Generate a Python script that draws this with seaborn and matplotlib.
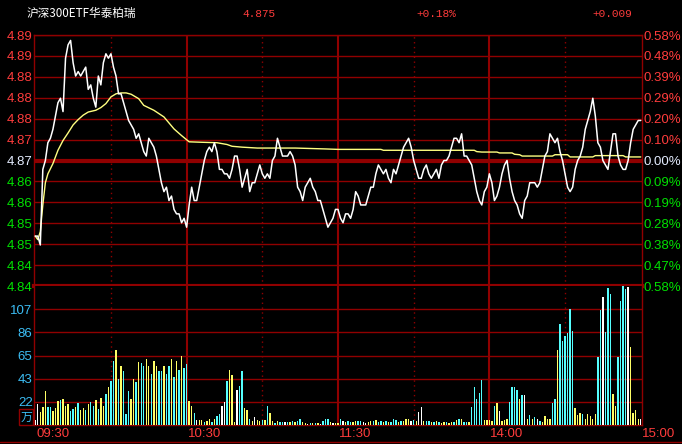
import numpy as np
import matplotlib
matplotlib.use("Agg")
import matplotlib.pyplot as plt
import matplotlib.transforms as mtransforms
from matplotlib.lines import Line2D
import seaborn as sns

# ---- data ----
title = "沪深300ETF华泰柏瑞"
last_price = "4.875"
chg_pct = "+0.18%"
chg = "+0.009"
prev_close = 4.866
max_pct = 0.0058

minutes = list(range(241))
price = [
    4.849, 4.849, 4.847, 4.864, 4.866, 4.870, 4.871, 4.873, 4.876, 4.879,
    4.880, 4.877, 4.889, 4.892, 4.893, 4.888, 4.885, 4.886, 4.885, 4.886,
    4.887, 4.882, 4.883, 4.880, 4.878, 4.885, 4.883, 4.888, 4.890, 4.889,
    4.890, 4.887, 4.885, 4.881, 4.881, 4.879, 4.877, 4.875, 4.874, 4.873,
    4.871, 4.872, 4.870, 4.868, 4.867, 4.871, 4.870, 4.869, 4.867, 4.864,
    4.861, 4.859, 4.860, 4.857, 4.858, 4.855, 4.854, 4.854, 4.852, 4.853,
    4.851, 4.856, 4.860, 4.857, 4.857, 4.860, 4.863, 4.866, 4.868, 4.869,
    4.868, 4.870, 4.868, 4.864, 4.864, 4.863, 4.863, 4.862, 4.864, 4.867,
    4.867, 4.864, 4.860, 4.862, 4.864, 4.859, 4.861, 4.861, 4.863, 4.865,
    4.863, 4.862, 4.863, 4.862, 4.866, 4.867, 4.871, 4.869, 4.867, 4.867,
    4.867, 4.868, 4.867, 4.865, 4.860, 4.859, 4.857, 4.860, 4.861, 4.862,
    4.860, 4.859, 4.857, 4.857, 4.855, 4.853, 4.851, 4.852, 4.853, 4.855,
    4.855, 4.853, 4.852, 4.854, 4.854, 4.853, 4.855, 4.859, 4.858, 4.856,
    4.856, 4.856, 4.858, 4.860, 4.860, 4.863, 4.865, 4.864, 4.863, 4.864,
    4.862, 4.861, 4.864, 4.863, 4.865, 4.867, 4.869, 4.870, 4.871, 4.869,
    4.866, 4.864, 4.862, 4.862, 4.864, 4.865, 4.863, 4.862, 4.863, 4.864,
    4.862, 4.865, 4.866, 4.866, 4.867, 4.869, 4.871, 4.871, 4.870, 4.872,
    4.867, 4.867, 4.866, 4.865, 4.862, 4.859, 4.857, 4.856, 4.859, 4.860,
    4.863, 4.861, 4.857, 4.858, 4.860, 4.863, 4.865, 4.866, 4.862, 4.859,
    4.857, 4.856, 4.854, 4.853, 4.857, 4.858, 4.861, 4.861, 4.861, 4.860,
    4.861, 4.864, 4.867, 4.868, 4.872, 4.871, 4.870, 4.871, 4.868, 4.866,
    4.863, 4.860, 4.859, 4.860, 4.864, 4.866, 4.867, 4.869, 4.873, 4.875,
    4.877, 4.880, 4.876, 4.870, 4.869, 4.866, 4.865, 4.864, 4.868, 4.872,
    4.872, 4.867, 4.865, 4.864, 4.864, 4.866, 4.870, 4.873, 4.874, 4.875,
    4.875,
]

avg_min = [0, 1, 2, 3, 4, 5, 7, 9, 11, 13, 15, 17, 19, 21, 24, 26, 28, 30,
           32, 34, 36, 38, 41, 43, 47, 51, 55, 58, 61, 66, 72, 76, 78, 82,
           88, 103, 115, 120, 137, 138, 174, 175, 177, 183, 184, 189, 190,
           192, 193, 205, 206, 211, 212, 221, 222, 233, 234, 240]
avg_price = [4.8490, 4.8482, 4.8500, 4.8560, 4.8610, 4.8630, 4.8653, 4.8683,
             4.8705, 4.8722, 4.8740, 4.8752, 4.8762, 4.8769, 4.8773, 4.8779,
             4.8788, 4.8803, 4.8810, 4.8812, 4.8812, 4.8809, 4.8799, 4.8784,
             4.8773, 4.8758, 4.8731, 4.8716, 4.8702, 4.8701, 4.8700, 4.8696,
             4.8692, 4.8690, 4.8688, 4.8688, 4.8686, 4.8685, 4.8685, 4.8683,
             4.8683, 4.8680, 4.8679, 4.8679, 4.8677, 4.8677, 4.8674, 4.8673,
             4.8670, 4.8670, 4.8673, 4.8673, 4.8668, 4.8668, 4.8671, 4.8671,
             4.8668, 4.8668]

volume = [
    5, 19, 12, 17, 31, 17, 17, 13, 16, 22, 23, 24, 18, 19, 13, 15, 17, 20, 14, 16,
    14, 19, 21, 18, 23, 15, 25, 18, 29, 35, 41, 59, 69, 43, 55, 50, 10, 31, 24, 43,
    40, 58, 57, 55, 61, 55, 47, 59, 55, 50, 50, 55, 47, 55, 61, 44, 59, 51, 64, 53,
    56, 22, 18, 11, 5, 5, 5, 3, 4, 6, 3, 6, 8, 10, 18, 21, 41, 51, 46, 3,
    32, 36,
    50, 16, 14, 6, 4, 7, 5, 4, 5, 5, 18, 11, 4, 2, 4, 3, 3, 3, 3, 3,
    4, 3, 4, 6, 3, 2, 1, 2, 2, 2, 2, 1, 4, 6, 6, 3, 2, 2, 2, 6,
    4, 3, 4, 3, 3, 4, 4, 4, 3, 2, 3, 4, 4, 5, 3, 4, 3, 4, 3, 3,
    6, 5, 3, 4, 4, 6, 6, 4, 5, 4, 12, 17, 4, 4, 4, 3, 3, 4, 3, 2,
    3, 3, 2, 3, 3, 5, 6, 6, 3, 3, 3, 17, 35, 24, 30,
    42, 5, 5, 5, 4, 18, 20, 13, 4, 5, 6, 21, 35, 35, 32, 24, 28, 28, 6, 9,
    6, 7, 6, 4, 3, 8, 6, 6, 20, 24, 69, 93, 78, 82, 85, 107, 87, 16, 9, 11,
    10, 6, 10, 8, 6, 10, 63, 106, 118, 86, 127, 121, 29, 18, 63, 115, 129, 126, 128, 72,
    11, 14, 6, 6,
]
# w = white, y = yellow, c = cyan
vol_color = ("wwyyyccyyy" "cyyyccycyy" "cyccycyycy" "ccycycccyy" "cyccyycyyc"
             "cyccycycyc" "cyycwyycyy" "cyccwwcyyy" "wc"
             "cyycywyycy" "cyycyccwcy" "cyccyywcyc" "ywcccywyyc" "wyccyyccww"
             "yycyccycyc" "ccycyyywcy" "wwyccycycy" "ycyycycycc" "ycccc"
             "cyyyycywyy" "yccccycwyc" "ycwcyyyycc" "yccccccyyy" "cyyyyyccwc"
             "ccyyccccwy" "yyyw")

price_labels = ["4.89", "4.89", "4.88", "4.88", "4.88", "4.87", "4.87",
                "4.86", "4.86", "4.85", "4.85", "4.84", "4.84"]
pct_labels = ["0.58%", "0.48%", "0.39%", "0.29%", "0.20%", "0.10%", "0.00%",
              "0.09%", "0.19%", "0.28%", "0.38%", "0.47%", "0.58%"]
vol_top = 128.6
vol_labels = ["22", "43", "65", "86", "107"]
time_labels = ["09:30", "10:30", "11:30", "14:00", "15:00"]
time_pos = [0, 60, 120, 180, 240]
solid_pos = [60, 120, 180]
dotted_pos = [30, 90, 150, 210]

# ---- style ----
sns.set_theme(style="dark", rc={"axes.facecolor": "black", "figure.facecolor": "black"})
plt.rcParams["font.family"] = ["Liberation Sans", "DejaVu Sans"]

GRID = "#900000"
RED = "#ff3c3c"
GREEN = "#00e000"
WHITE = "#e4ecff"
CYAN_T = "#3cbef5"
cmap = {"w": "#ffffff", "y": "#ffff66", "c": "#55ffff"}
CJK = ["Noto Sans CJK SC", "DejaVu Sans"]

W, H = 682, 444
fig = plt.figure(figsize=(W / 100, H / 100), dpi=100, facecolor="black")


def box(x0, y0, x1, y1):
    return [x0 / W, 1 - y1 / H, (x1 - x0) / W, (y1 - y0) / H]


ax = fig.add_axes(box(34, 35, 642, 286))
axv = fig.add_axes(box(34, 286, 642, 425))

# ---- price pane ----
ylo, yhi = prev_close * (1 - max_pct), prev_close * (1 + max_pct)
yt = np.linspace(ylo, yhi, 13)
for i, t in enumerate(yt):
    ax.axhline(t, color=GRID, lw=3 if i == 6 else 1, zorder=1)
for p in solid_pos:
    ax.axvline(p, color=GRID, lw=1.5, zorder=1)
    axv.axvline(p, color=GRID, lw=1.5, zorder=1)
for p in dotted_pos:
    ax.axvline(p, color=GRID, lw=1, ls=(0, (1, 2.5)), zorder=1)
    axv.axvline(p, color=GRID, lw=1, ls=(0, (1, 2.5)), zorder=1)

sns.lineplot(x=avg_min, y=avg_price, ax=ax, color="#ffff80", lw=1, zorder=3)
sns.lineplot(x=minutes, y=price, ax=ax, color="white", lw=1.1, zorder=4)
ax.set_xlim(-0.5, 240.5)
ax.set_ylim(ylo, yhi)
ax.set_xticks([])
ax.set_xlabel("")
ax.set_ylabel("")
ax.set_yticks(yt)
ax.set_yticklabels(price_labels[::-1])
ax.tick_params(axis="y", length=0, pad=1, labelsize=9.5)
lab_colors = [GREEN] * 6 + [WHITE] + [RED] * 6
for lab, c in zip(ax.get_yticklabels(), lab_colors):
    lab.set_color(c)
for s in ax.spines.values():
    s.set_color(GRID)
    s.set_linewidth(1)
ax.spines["bottom"].set_linewidth(3)

axr = ax.twinx()
axr.set_ylim(ylo, yhi)
axr.set_yticks(yt)
axr.set_yticklabels(pct_labels[::-1])
axr.tick_params(axis="y", length=0, pad=1, labelsize=9.5)
for lab, c in zip(axr.get_yticklabels(), lab_colors):
    lab.set_color(c)
for s in axr.spines.values():
    s.set_visible(False)
axr.grid(False)
ax.grid(False)

# ---- volume pane ----
vt = np.arange(1, 6) * vol_top / 6
for t in vt:
    axv.axhline(t, color=GRID, lw=1, zorder=1)
sns.barplot(x=minutes, y=volume, hue=list(vol_color), palette=cmap,
            native_scale=True, dodge=False, width=0.55, saturation=1,
            errorbar=None, linewidth=0, legend=False, ax=axv, zorder=3)
axv.set_xlim(-0.5, 240.5)
axv.set_ylim(0, vol_top)
axv.set_xticks([])
axv.set_xlabel("")
axv.set_ylabel("")
axv.set_yticks(vt)
axv.set_yticklabels(vol_labels)
axv.tick_params(axis="y", length=0, pad=1, labelsize=9.5, colors=CYAN_T)
axv.grid(False)
for s in axv.spines.values():
    s.set_color(GRID)
    s.set_linewidth(1)
axv.spines["top"].set_visible(False)

trans = mtransforms.blended_transform_factory(axv.transData, axv.transAxes)
for lab, p in zip(time_labels, time_pos):
    axv.text(p + 0.4, -0.063, lab, transform=trans, ha="left", va="center",
             color=RED, fontsize=9.5, clip_on=False)

fig.text(26 / W, 1 - 417 / H, "万", family=CJK, color=CYAN_T, fontsize=8.5,
         ha="center", va="center",
         bbox=dict(boxstyle="square,pad=0.12", fc="black", ec=GRID, lw=1))
fig.add_artist(Line2D([0, 1], [1 - 442 / H] * 2, color=GRID, lw=1))

# ---- header ----
hy = 1 - 14 / H
fig.text(27 / W, hy, title, family=CJK, color="white", fontsize=8.4, va="center")
fig.text(242 / W, hy, last_price, family="Liberation Mono", color=RED, fontsize=8, va="center")
fig.text(416 / W, hy, chg_pct, family="Liberation Mono", color=RED, fontsize=8, va="center")
fig.text(592 / W, hy, chg, family="Liberation Mono", color=RED, fontsize=8, va="center")

fig.savefig("out.png", dpi=100, facecolor="black")
